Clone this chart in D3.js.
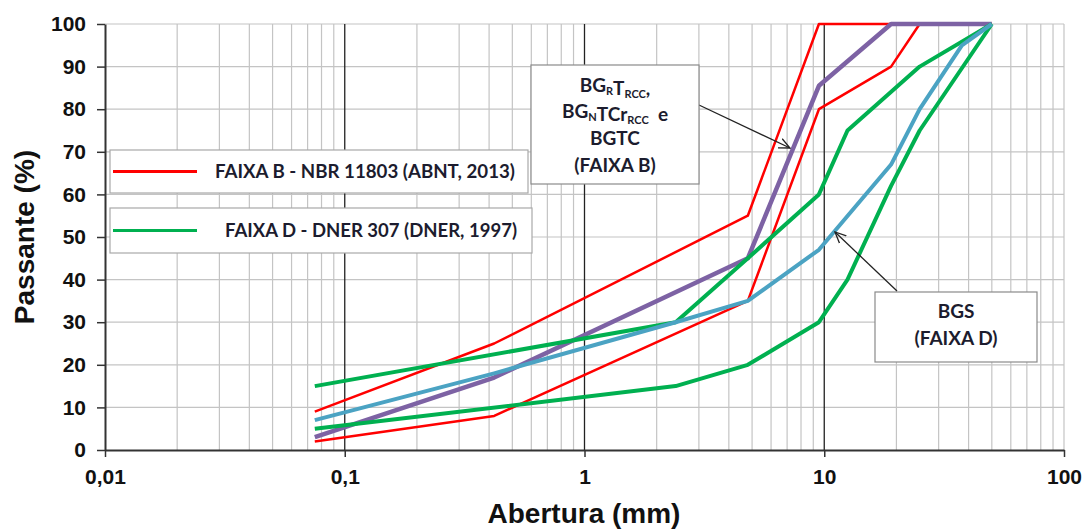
<!DOCTYPE html>
<html lang="pt">
<head>
    <meta charset="UTF-8">
    <title>Curvas granulométricas</title>
    <script src="https://d3js.org/d3.v7.min.js"></script>
    <style>
        body { margin: 0; background: #fff; }
        svg text { font-family: "Liberation Sans", Arial, sans-serif; }
        .lbl { font-family: Lato, "Open Sans", sans-serif !important; font-weight: bold; fill: #1c1c2e; }
    </style>
</head>
<body>
    <div id="plot"></div>
    <script>
        // peneiras (mm) e % passante
        let sievesB = [0.075, 0.42, 4.8, 9.5, 19, 25, 50];
        let faixaBUpper = [9, 25, 55, 100, 100, 100, 100];
        let faixaBLower = [2, 8, 35, 80, 90, 100, 100];

        let sievesDUpper = [0.075, 2.4, 4.8, 9.5, 12.5, 25, 50];
        let faixaDUpper = [15, 30, 45, 60, 75, 90, 100];
        let sievesDLower = [0.075, 2.4, 4.8, 9.5, 12.5, 19, 25, 50];
        let faixaDLower = [5, 15, 20, 30, 40, 62, 75, 100];

        let sievesBGT = [0.075, 0.42, 4.8, 9.5, 19, 50];
        let bgtValues = [3, 17, 45, 85.5, 100, 100];

        let sievesBGS = [0.075, 0.42, 2.4, 4.8, 9.5, 19, 25, 37.5, 50];
        let bgsValues = [7, 18, 30, 35, 47, 67, 80, 95, 100];

        let xTicks = [0.01, 0.1, 1, 10, 100];
        let xTickLabels = ['0,01', '0,1', '1', '10', '100'];
        let yTicks = d3.range(0, 101, 10);

        function translate(x, y){
            return 'translate(' + x + ', ' + y + ')';
        }
        function zip(xs, ys){
            return xs.map((s, i) => ({s: s, v: ys[i]}));
        }

        let svgWidth = 1087, svgHeight = 529;
        let svg = d3.select('#plot').append('svg')
            .attr('width', svgWidth)
            .attr('height', svgHeight);

        let x = d3.scaleLog().domain([0.01, 100]).range([105, 1064]);
        let y = d3.scaleLinear().domain([0, 100]).range([450, 24]);

        // grade
        let minor = [];
        [0.01, 0.1, 1, 10].forEach(d => {
            for (let k = 2; k <= 9; k++) minor.push(d * k);
        });
        minor.push(100);
        svg.append('g').selectAll('line').data(minor).enter().append('line')
            .attr('x1', d => x(d)).attr('x2', d => x(d))
            .attr('y1', y(0)).attr('y2', y(100))
            .attr('stroke', '#c4c4c4').attr('stroke-width', 1.2);
        svg.append('g').selectAll('line').data(yTicks.slice(1)).enter().append('line')
            .attr('x1', x(0.01)).attr('x2', x(100))
            .attr('y1', d => y(d)).attr('y2', d => y(d))
            .attr('stroke', '#c4c4c4').attr('stroke-width', 1.2);
        svg.append('g').selectAll('line').data([0.1, 1, 10]).enter().append('line')
            .attr('x1', d => x(d)).attr('x2', d => x(d))
            .attr('y1', y(0)).attr('y2', y(100))
            .attr('stroke', '#222').attr('stroke-width', 1.3);

        // eixos
        let xAxis = d3.axisBottom(x).tickValues(xTicks)
            .tickFormat((d, i) => xTickLabels[i]).tickSize(7).tickSizeOuter(0);
        let yAxis = d3.axisLeft(y).tickValues(yTicks).tickSize(8).tickSizeOuter(0);

        let gx = svg.append('g').attr('transform', translate(0, 450)).call(xAxis);
        let gy = svg.append('g').attr('transform', translate(105, 0)).call(yAxis);
        [gx, gy].forEach(g => {
            g.select('.domain').attr('stroke', '#333').attr('stroke-width', 2);
            g.selectAll('.tick line').attr('stroke', '#333').attr('stroke-width', 1.5);
            g.selectAll('text').attr('font-size', 21).attr('font-weight', 'bold')
                .attr('fill', '#111').style('font-family', '"Liberation Sans", Arial, sans-serif');
        });
        gx.selectAll('text').attr('dy', '1.15em');
        gy.selectAll('text').attr('x', -19);

        svg.append('text')
            .attr('x', 584).attr('y', 523)
            .attr('text-anchor', 'middle')
            .attr('font-size', 28).attr('font-weight', 'bold').attr('fill', '#111')
            .text('Abertura (mm)');
        svg.append('text')
            .attr('transform', translate(34, 237) + ' rotate(-90)')
            .attr('text-anchor', 'middle')
            .attr('font-size', 28).attr('font-weight', 'bold').attr('fill', '#111')
            .text('Passante (%)');

        // curvas
        let line = d3.line().x(d => x(d.s)).y(d => y(d.v));
        let series = [
            {data: zip(sievesB, faixaBUpper), color: '#ff0000', w: 2.5},
            {data: zip(sievesB, faixaBLower), color: '#ff0000', w: 2.5},
            {data: zip(sievesBGT, bgtValues), color: '#7d62a4', w: 4.5},
            {data: zip(sievesDUpper, faixaDUpper), color: '#00b050', w: 4},
            {data: zip(sievesDLower, faixaDLower), color: '#00b050', w: 4},
            {data: zip(sievesBGS, bgsValues), color: '#4ba3c3', w: 4}
        ];
        svg.append('g').selectAll('path').data(series).enter().append('path')
            .attr('d', d => line(d.data))
            .attr('fill', 'none')
            .attr('stroke', d => d.color)
            .attr('stroke-width', d => d.w)
            .attr('stroke-linejoin', 'round');

        // legendas
        let legend = [
            {label: 'FAIXA B - NBR 11803  (ABNT, 2013)', color: '#ff0000', box: [110, 150, 418, 43], tx: 215, tl: 300},
            {label: 'FAIXA D - DNER 307 (DNER, 1997)', color: '#00b050', box: [110, 208, 422, 45], tx: 225, tl: 292}
        ];
        legend.forEach(l => {
            let g = svg.append('g');
            g.append('rect')
                .attr('x', l.box[0]).attr('y', l.box[1])
                .attr('width', l.box[2]).attr('height', l.box[3])
                .attr('fill', '#fff').attr('stroke', '#a8a8a8').attr('stroke-width', 1.2);
            let cy = l.box[1] + l.box[3] / 2;
            g.append('line')
                .attr('x1', 113).attr('x2', 197).attr('y1', cy).attr('y2', cy)
                .attr('stroke', l.color).attr('stroke-width', 3);
            g.append('text').attr('class', 'lbl')
                .attr('x', l.tx).attr('y', cy + 6)
                .attr('font-size', 18)
                .attr('textLength', l.tl).attr('lengthAdjust', 'spacingAndGlyphs')
                .text(l.label);
        });

        // anotacoes
        svg.append('defs').append('marker')
            .attr('id', 'arr').attr('viewBox', '0 0 12 12')
            .attr('refX', 11).attr('refY', 6)
            .attr('markerWidth', 12).attr('markerHeight', 12)
            .attr('markerUnits', 'userSpaceOnUse')
            .attr('orient', 'auto')
            .append('path').attr('d', 'M0,1 L11,6 L0,11')
            .attr('fill', 'none').attr('stroke', '#222').attr('stroke-width', 1.3);

        svg.append('line')
            .attr('x1', 699).attr('y1', 105).attr('x2', 790).attr('y2', 148)
            .attr('stroke', '#222').attr('stroke-width', 1.3).attr('marker-end', 'url(#arr)');
        svg.append('line')
            .attr('x1', 897).attr('y1', 291).attr('x2', 835).attr('y2', 232)
            .attr('stroke', '#222').attr('stroke-width', 1.3).attr('marker-end', 'url(#arr)');

        svg.append('rect').attr('x', 531).attr('y', 65).attr('width', 168).attr('height', 119)
            .attr('fill', '#fff').attr('stroke', '#8a8a8a').attr('stroke-width', 1.2);
        svg.append('rect').attr('x', 875).attr('y', 292).attr('width', 162).attr('height', 70)
            .attr('fill', '#fff').attr('stroke', '#8a8a8a').attr('stroke-width', 1.2);

        function sub(t, main, s){
            t.append('tspan').text(main);
            t.append('tspan').attr('font-size', 11).attr('dy', 3).text(s);
            t.append('tspan').attr('dy', -3).text('');
        }
        let a1 = svg.append('text').attr('class', 'lbl').attr('x', 615).attr('y', 92)
            .attr('text-anchor', 'middle').attr('font-size', 19);
        sub(a1, 'BG', 'R');
        a1.append('tspan').text('T');
        a1.append('tspan').attr('font-size', 11).attr('dy', 3).text('RCC');
        a1.append('tspan').attr('dy', -3).text(',');

        let a2 = svg.append('text').attr('class', 'lbl').attr('x', 615).attr('y', 118)
            .attr('text-anchor', 'middle').attr('font-size', 19);
        sub(a2, 'BG', 'N');
        a2.append('tspan').text('TCr');
        a2.append('tspan').attr('font-size', 11).attr('dy', 3).text('RCC');
        a2.append('tspan').attr('dy', -3).text('\u00a0\u00a0e');

        svg.append('text').attr('class', 'lbl').attr('x', 615).attr('y', 145)
            .attr('text-anchor', 'middle').attr('font-size', 19).text('BGTC');
        svg.append('text').attr('class', 'lbl').attr('x', 615).attr('y', 172)
            .attr('text-anchor', 'middle').attr('font-size', 19).text('(FAIXA B)');

        svg.append('text').attr('class', 'lbl').attr('x', 956).attr('y', 318)
            .attr('text-anchor', 'middle').attr('font-size', 19).text('BGS');
        svg.append('text').attr('class', 'lbl').attr('x', 956).attr('y', 345)
            .attr('text-anchor', 'middle').attr('font-size', 19).text('(FAIXA D)');
    </script>
</body>
</html>
